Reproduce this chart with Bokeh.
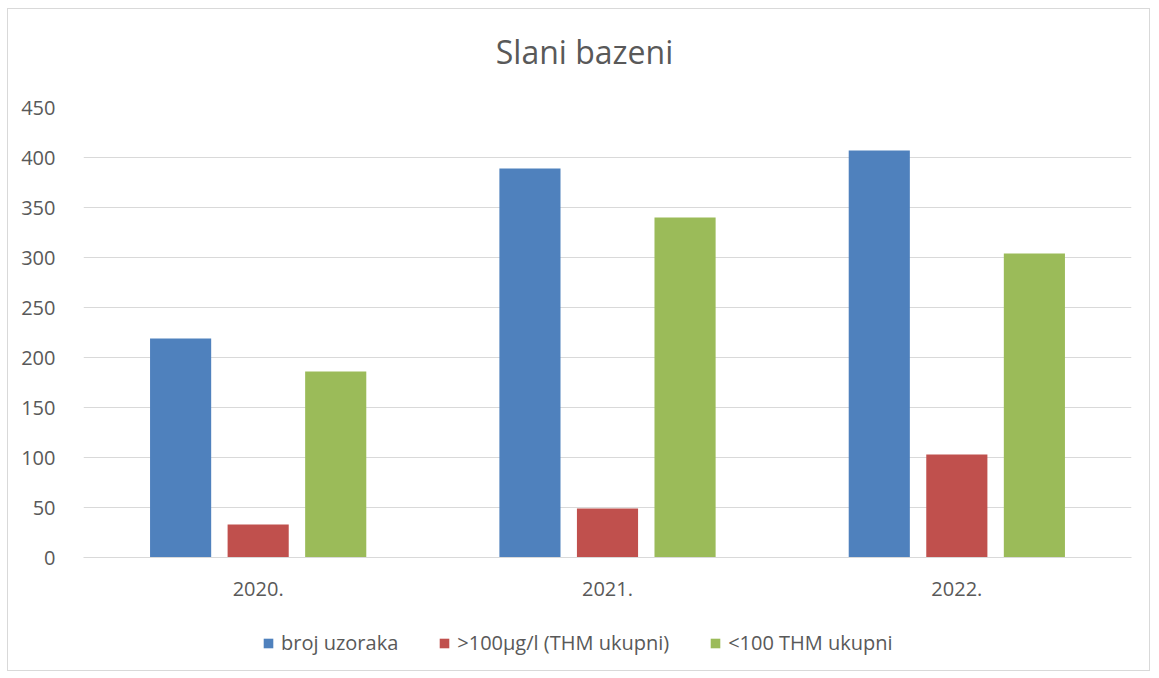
from bokeh.plotting import figure
from bokeh.models import ColumnDataSource, FactorRange, Legend, LegendItem, Label
from bokeh.layouts import column
from bokeh.transform import dodge
from bokeh.embed import file_html
from bokeh.resources import INLINE

years = ["2020.", "2021.", "2022."]
broj_uzoraka = [219, 389, 407]
iznad_100 = [33, 49, 103]
ispod_100 = [186, 340, 304]
series_names = ["broj uzoraka", ">100µg/l (THM ukupni)", "<100 THM ukupni"]
colors = ["#4F81BD", "#C0504D", "#9BBB59"]
y_ticks = [0, 50, 100, 150, 200, 250, 300, 350, 400, 450]
chart_title = "Slani bazeni"

src = ColumnDataSource(dict(year=years, a=broj_uzoraka, b=iznad_100, c=ispod_100))

FONT = "Open Sans"
GREY = "#595959"
W = 1141


def strip(h):
    f = figure(x_range=(0, W), y_range=(0, h), frame_width=W, frame_height=h,
               output_backend="svg", toolbar_location=None, min_border=0)
    f.axis.visible = False
    f.grid.grid_line_color = None
    f.outline_line_color = None
    return f


# title strip
p0 = strip(70)
p0.add_layout(Label(x=501, y=28, text=chart_title, text_align="center", text_baseline="middle",
                    text_font=FONT, text_font_size="32px", text_color=GREY))

# main chart
p = figure(x_range=FactorRange(*years), y_range=(0, 450),
           frame_width=1048, frame_height=450,
           output_backend="svg", toolbar_location=None,
           min_border_left=75, min_border_right=18, min_border_top=28, min_border_bottom=60)
p.outline_line_color = None

offs = [-0.222, 0.0, 0.222]
cols = ["a", "b", "c"]
for col, off, c in zip(cols, offs, colors):
    p.vbar(x=dodge("year", off, range=p.x_range), top=col, width=0.175,
           source=src, fill_color=c, line_color=None)

p.xgrid.grid_line_color = None
p.ygrid.grid_line_color = "#d9d9d9"
p.ygrid.grid_line_width = 1
p.yaxis.ticker = y_ticks
p.yaxis.axis_line_color = None
p.yaxis.major_tick_line_color = None
p.yaxis.minor_tick_line_color = None
p.yaxis.major_label_standoff = 22
p.xaxis.axis_line_color = "#d9d9d9"
p.xaxis.major_tick_line_color = None
p.xaxis.minor_tick_line_color = None
p.xaxis.major_label_standoff = 18
for ax in (p.xaxis, p.yaxis):
    ax.major_label_text_font = FONT
    ax.major_label_text_font_size = "20px"
    ax.major_label_text_color = GREY

# legend strip (bars lie outside its y range; only the legend shows)
p2 = figure(x_range=p.x_range, y_range=(1000, 1053), frame_width=W, frame_height=53,
            output_backend="svg", toolbar_location=None, min_border=0)
p2.axis.visible = False
p2.grid.grid_line_color = None
p2.outline_line_color = None
leg_renderers = []
for col, off, c in zip(cols, offs, colors):
    r = p2.vbar(x=dodge("year", off, range=p.x_range), top=col, width=0.175,
                source=src, fill_color=c, line_color=None)
    leg_renderers.append(r)

legend = Legend(items=[LegendItem(label=n, renderers=[r]) for n, r in zip(series_names, leg_renderers)],
                orientation="horizontal", location=(254, 14),
                label_text_font=FONT, label_text_font_size="20px", label_text_color=GREY,
                glyph_width=12, glyph_height=12, spacing=40, label_standoff=7,
                border_line_color=None, background_fill_alpha=0, margin=0, padding=0)
p2.add_layout(legend, "center")

layout = column(p0, p, p2, spacing=0,
                styles={"border": "1px solid #d9d9d9", "margin-left": "7px", "margin-top": "8px"})

open("out.html", "w").write(file_html(layout, INLINE))
